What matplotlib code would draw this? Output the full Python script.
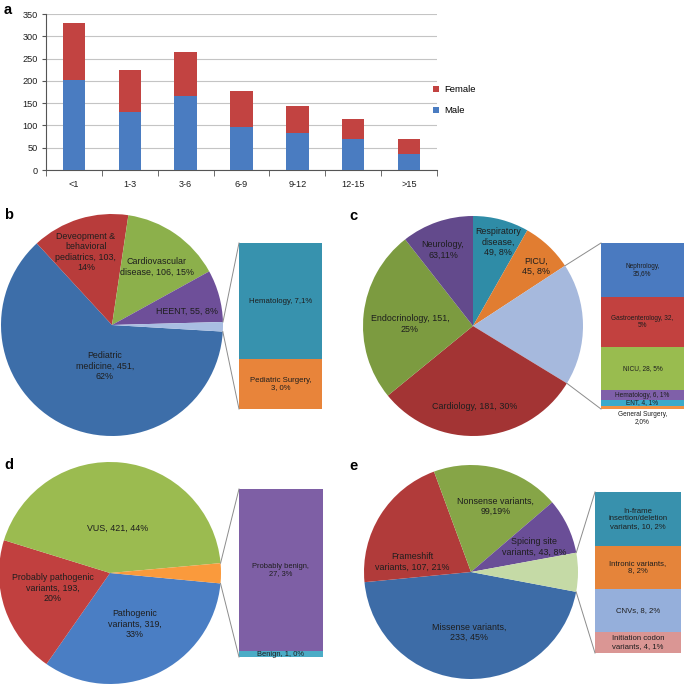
import numpy as np
import matplotlib
matplotlib.use('Agg')
import matplotlib.pyplot as plt

plt.rcParams['font.family'] = ['Liberation Sans', 'DejaVu Sans']

# ---- panel a: age groups by sex
age_groups = ['<1', '1-3', '3-6', '6-9', '9-12', '12-15', '>15']
male = [202, 130, 165, 96, 84, 70, 36]
female = [127, 95, 100, 82, 59, 45, 34]

# ---- panel b: departments
b_labels = ['Pediatric\nmedicine, 451,\n62%', 'Deveopment &\nbehavioral\npediatrics, 103,\n14%',
            'Cardiovascular\ndisease, 106, 15%', 'HEENT, 55, 8%']
b_values = [451, 103, 106, 55]
b_bar_labels = ['Hematology, 7,1%', 'Pediatric Surgery,\n3, 0%']
b_bar_values = [7, 3]

# ---- panel c: departments
c_labels = ['Respiratory\ndisease,\n49, 8%', 'PICU,\n45, 8%', 'Cardiology, 181, 30%',
            'Endocrinology, 151,\n25%', 'Neurology,\n63,11%']
c_values = [49, 45, 181, 151, 63]
c_bar_labels = ['Nephrology,\n35,6%', 'Gastroenterology, 32,\n5%', 'NICU, 28, 5%',
                'Hematology, 6, 1%', 'ENT, 4, 1%', 'General Surgery,\n2,0%']
c_bar_values = [35, 32, 28, 6, 4, 2]

# ---- panel d: variant classification
d_labels = ['Pathogenic\nvariants, 319,\n33%', 'Probably pathogenic\nvariants, 193,\n20%', 'VUS, 421, 44%']
d_values = [319, 193, 421]
d_bar_labels = ['Probably benign,\n27, 3%', 'Benign, 1, 0%']
d_bar_values = [27, 1]

# ---- panel e: variant types
e_labels = ['Missense variants,\n233, 45%', 'Frameshift\nvariants, 107, 21%',
            'Nonsense variants,\n99,19%', 'Spicing site\nvariants, 43, 8%']
e_values = [233, 107, 99, 43]
e_bar_labels = ['In-frame\ninsertion/deletion\nvariants, 10, 2%', 'Intronic variants,\n8, 2%',
                'CNVs, 8, 2%', 'Initiation codon\nvariants, 4, 1%']
e_bar_values = [10, 8, 8, 4]

H = 685
txt_c = '#1e1e1e'

fig = plt.figure(figsize=(6.85, 6.85), dpi=100)
ax = fig.add_axes([0, 0, 1, 1])


def pie_of_pie(cx, cy, r, values, colors, labels, offsets, other_at, startangle,
               bar_values, bar_colors, bar_labels, bar_box, fs=6.4, bar_fs=5.6):
    vals = list(values)
    vals.insert(other_at, sum(bar_values))
    cy = H - cy
    wedges, _ = ax.pie(vals, colors=colors, startangle=startangle, counterclock=False,
                       center=(cx, cy), radius=r, frame=True,
                       wedgeprops=dict(linewidth=0))
    for lab, (dx, dy) in zip(labels, offsets):
        ax.text(cx + dx, cy + dy, lab, ha='center', va='center', fontsize=fs,
                color=txt_c, linespacing=1.15)
    # stacked bar for the small slices
    x0, x1, ytop, ybot = bar_box
    top, bottom = H - ytop, H - ybot
    tot = float(sum(bar_values))
    cur = top
    for v, col, lab in zip(bar_values, bar_colors, bar_labels):
        h = v / tot * (top - bottom)
        ax.bar((x0 + x1) / 2, h, width=x1 - x0, bottom=cur - h, color=col, linewidth=0)
        if h < 4:
            ax.text((x0 + x1) / 2, bottom - 1.5, lab, ha='center', va='top',
                    fontsize=bar_fs, color=txt_c, linespacing=1.1)
        else:
            ax.text((x0 + x1) / 2, cur - h / 2, lab, ha='center', va='center',
                    fontsize=bar_fs, color=txt_c, linespacing=1.15)
        cur -= h
    w = wedges[other_at]
    t1, t2 = np.radians(w.theta1), np.radians(w.theta2)
    ax.plot([cx + r * np.cos(t2), x0], [cy + r * np.sin(t2), top], color='#8c8c8c', lw=0.7)
    ax.plot([cx + r * np.cos(t1), x0], [cy + r * np.sin(t1), bottom], color='#8c8c8c', lw=0.7)


# b
pie_of_pie(112, 325, 111, b_values,
           ['#3d6ea9', '#b83c3b', '#8cb04b', '#6e4f99', '#a9bee2'],
           b_labels, [(-7, -41), (-26, 73), (45, 58), (75, 14)], 4, -3.4,
           b_bar_values, ['#3792ae', '#e8843a'], b_bar_labels, (239, 322, 243, 409),
           bar_fs=5.6)
# c
pie_of_pie(473, 326, 110, c_values,
           ['#2f8ca7', '#e17d31', '#a6b9dd', '#a33434', '#7c9b40', '#634a8c'],
           c_labels, [(25, 84), (63, 60), (2, -80), (-63, 2), (-30, 76)], 2, 90,
           c_bar_values, ['#4a7ac0', '#c2413f', '#99bc4f', '#7f60a9', '#3baacb', '#f39143'],
           c_bar_labels, (601, 684, 243, 409), bar_fs=4.7)
# d
pie_of_pie(110, 573, 111, d_values,
           ['#4a7ec4', '#c1403f', '#9bbb50', '#fa9a3c'],
           d_labels, [(25, -51), (-57, -15), (8, 45)], 3, -5.4,
           d_bar_values, ['#7e5fa5', '#4bacc6'], d_bar_labels, (239, 323, 489, 657),
           bar_fs=5.4)
# e
pie_of_pie(471, 572, 107, e_values,
           ['#3d6ca7', '#b13b3a', '#86a547', '#6a4e97', '#c5daa6'],
           e_labels, [(-2, -60), (-59, 10), (25, 66), (63, 25)], 4, -10.7,
           e_bar_values, ['#3891ad', '#e5843a', '#95afdb', '#da9694'], e_bar_labels,
           (595, 681, 492, 653), bar_fs=5.6)

ax.set_xlim(0, H)
ax.set_ylim(0, H)
ax.axis('off')

# ---- panel a axes
axa = fig.add_axes([46 / H, 1 - 170 / H, 391 / H, 156 / H])
x = np.arange(len(age_groups))
axa.bar(x, male, 0.4, color='#4a7cc1', label='Male', zorder=3)
axa.bar(x, female, 0.4, bottom=male, color='#c24341', label='Female', zorder=3)
axa.set_xlim(-0.5, len(age_groups) - 0.5)
axa.set_ylim(0, 350)
axa.set_yticks(range(0, 351, 50))
axa.yaxis.grid(True, color='#c4c4c4', lw=0.8)
axa.set_axisbelow(True)
axa.set_xticks(x)
axa.set_xticklabels(age_groups)
axa.set_xticks(np.arange(-0.5, len(age_groups), 1), minor=True)
axa.tick_params(axis='x', which='major', length=0, pad=7, labelsize=6.6, labelcolor=txt_c)
axa.tick_params(axis='x', which='minor', length=4, direction='out', color='#555555')
axa.tick_params(axis='y', length=3, labelsize=6.6, pad=3, color='#555555', labelcolor=txt_c)
for s in ['top', 'right']:
    axa.spines[s].set_visible(False)
for s in ['left', 'bottom']:
    axa.spines[s].set_color('#555555')
    axa.spines[s].set_linewidth(0.8)
hh, ll = axa.get_legend_handles_labels()
fig.legend(hh[::-1], ll[::-1], loc='center left', bbox_to_anchor=(433 / H, 1 - 100 / H),
           frameon=False, fontsize=6.8, handlelength=0.6, handleheight=0.6,
           handletextpad=0.6, labelspacing=1.25, borderpad=0, borderaxespad=0)

# panel letters
for lab, (px, py) in zip(['a', 'b', 'c', 'd', 'e'],
                         [(4, 10), (4, 215), (349, 216), (4, 465), (349, 466)]):
    fig.text(px / H, 1 - py / H, lab, fontsize=10.5, fontweight='bold', va='center', ha='left')

fig.savefig('out.png', dpi=100)
